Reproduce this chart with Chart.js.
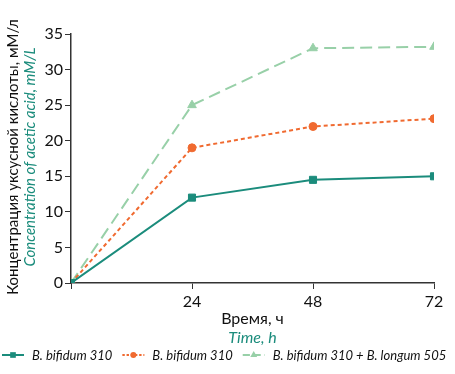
<!DOCTYPE html>
<html>
<head>
<meta charset="utf-8">
<script src="https://cdn.jsdelivr.net/npm/chart.js@4.4.0/dist/chart.umd.min.js"></script>
<style>
  html, body { margin: 0; padding: 0; background: #fff; }
  #wrap { width: 455px; height: 374px; }
</style>
</head>
<body>
<div id="wrap"><canvas id="grafico"></canvas></div>
<script>
// datos
var horas = [0, 24, 48, 72];
var bifidum1 = [0, 12, 14.5, 15];
var bifidum2 = [0, 19, 22, 23.1];
var mezcla = [0, 25, 33, 33.2];
var nombres = ["B. bifidum 310", "B. bifidum 310", "B. bifidum 310 + B. longum 505"];
var ticksX = [24, 48, 72];

var fuente = "Lato, sans-serif";
var verde = "#1b8c7c";
var naranja = "#f06a30";
var claro = "#98d0a8";

function puntos(vals){
    return horas.map(function(h, i){ return {x: h, y: vals[i]}; });
}

// titulos de ejes y leyenda dibujados a mano
var extras = {
    id: 'extras',
    afterDraw: function(chart){
        var ctx = chart.ctx;
        var area = chart.chartArea;
        ctx.save();
        // titulo eje y
        ctx.translate(13, 157);
        ctx.rotate(-Math.PI / 2);
        ctx.textAlign = 'center';
        ctx.textBaseline = 'middle';
        ctx.fillStyle = '#111';
        ctx.font = "15px " + fuente;
        ctx.fillText("Концентрация уксусной кислоты, мМ/л", 0, 0);
        ctx.fillStyle = verde;
        ctx.font = "italic 15px " + fuente;
        ctx.fillText("Concentration of acetic acid, mM/L", 0, 17);
        ctx.restore();

        // titulo eje x
        var cx = (area.left + area.right) / 2;
        ctx.save();
        ctx.textAlign = 'center';
        ctx.textBaseline = 'middle';
        ctx.fillStyle = '#111';
        ctx.font = "16px " + fuente;
        ctx.fillText("Время, ч", cx, 319);
        ctx.fillStyle = verde;
        ctx.font = "italic 16px " + fuente;
        ctx.fillText("Time, h", cx, 338);
        ctx.restore();

        // leyenda
        var x = 2, y = 355;
        ctx.save();
        ctx.textBaseline = 'middle';
        ctx.font = "italic 13px " + fuente;
        chart.data.datasets.forEach(function(ds, i){
            ctx.strokeStyle = ds.borderColor;
            ctx.lineWidth = 2;
            ctx.setLineDash(ds.borderDash ? ds.borderDash.map(function(d){ return d * 0.6; }) : []);
            ctx.beginPath();
            ctx.moveTo(x, y);
            ctx.lineTo(x + 22, y);
            ctx.stroke();
            ctx.setLineDash([]);
            ctx.fillStyle = ds.pointBackgroundColor;
            ctx.strokeStyle = ds.pointBackgroundColor;
            Chart.helpers.drawPoint(ctx, {
                pointStyle: ds.pointStyle,
                radius: ds.pointRadius - 1,
                rotation: 0,
                borderWidth: 0
            }, x + 11, y);
            ctx.fillStyle = '#111';
            ctx.fillText(ds.label, x + 30, y + 1);
            x += 30 + ctx.measureText(ds.label).width + 10;
        });
        ctx.restore();
    }
};

var chartDiv = document.getElementById('grafico');
var myChart = new Chart(chartDiv, {
    type: 'line',
    data: {
        datasets: [
        {
            label: nombres[0],
            data: puntos(bifidum1),
            borderColor: verde,
            backgroundColor: verde,
            pointBackgroundColor: verde,
            pointBorderColor: verde,
            pointStyle: 'rect',
            pointRadius: 5,
            pointBorderWidth: 1,
            borderWidth: 2
        },
        {
            label: nombres[1],
            data: puntos(bifidum2),
            borderColor: naranja,
            backgroundColor: naranja,
            pointBackgroundColor: naranja,
            pointBorderColor: naranja,
            pointStyle: 'circle',
            pointRadius: 4,
            pointBorderWidth: 1,
            borderWidth: 2,
            borderDash: [4, 3]
        },
        {
            label: nombres[2],
            data: puntos(mezcla),
            borderColor: claro,
            backgroundColor: claro,
            pointBackgroundColor: claro,
            pointBorderColor: claro,
            pointStyle: 'triangle',
            pointRadius: 5,
            pointBorderWidth: 1,
            borderWidth: 2,
            borderDash: [12, 6]
        }]
    },
    options: {
        responsive: true,
        maintainAspectRatio: false,
        animation: false,
        layout: { padding: { left: 0, right: 21, top: 34, bottom: 0 } },
        plugins: {
            legend: { display: false },
            tooltip: { enabled: false }
        },
        scales: {
            x: {
                type: 'linear',
                min: 0,
                max: 72,
                afterBuildTicks: function(scale){
                    scale.ticks = [0].concat(ticksX).map(function(v){ return {value: v}; });
                },
                afterFit: function(scale){ scale.height = 91; },
                grid: { drawOnChartArea: false, tickLength: 6, color: '#333', lineWidth: 1 },
                border: { color: '#333', width: 1.5 },
                ticks: {
                    color: '#111',
                    font: { family: fuente, size: 16 },
                    padding: 3,
                    callback: function(v){ return v === 0 ? '' : v; }
                }
            },
            y: {
                min: 0,
                max: 35,
                afterFit: function(scale){ scale.width = 71; },
                grid: { drawOnChartArea: false, tickLength: 6, color: '#333', lineWidth: 1 },
                border: { color: '#333', width: 1.5 },
                ticks: {
                    stepSize: 5,
                    color: '#111',
                    font: { family: fuente, size: 16 },
                    padding: 2
                }
            }
        }
    },
    plugins: [extras]
});
</script>
</body>
</html>
